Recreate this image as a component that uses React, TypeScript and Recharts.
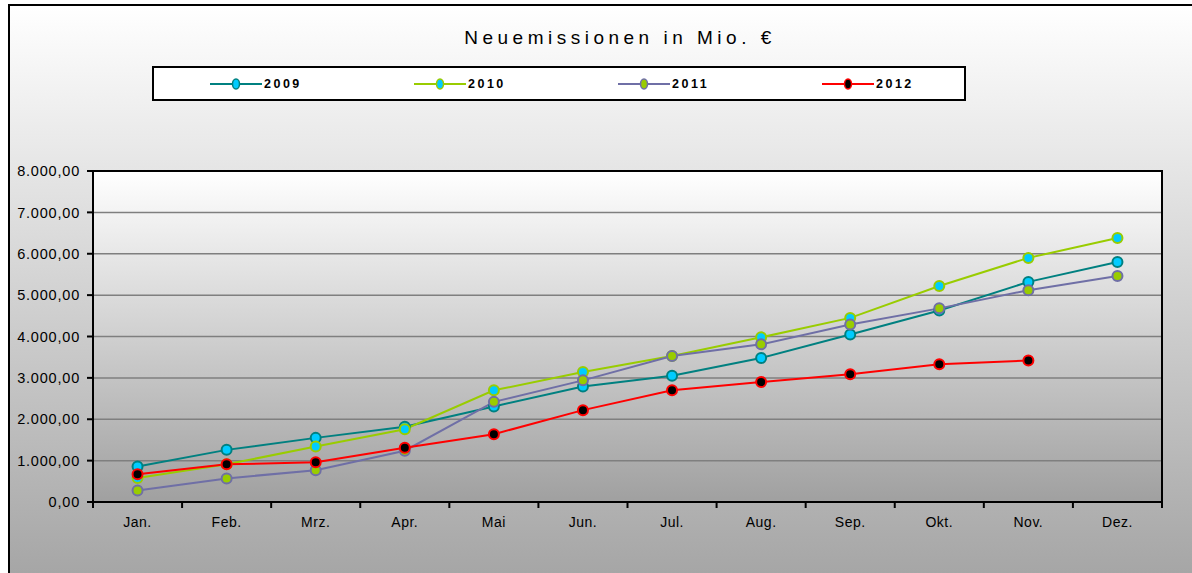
import { CartesianGrid, Legend, Line, LineChart, ReferenceArea, XAxis, YAxis } from "recharts";

const MONTHS = ["Jan.", "Feb.", "Mrz.", "Apr.", "Mai", "Jun.", "Jul.", "Aug.", "Sep.", "Okt.", "Nov.", "Dez."];
const S2009 = [860, 1260, 1550, 1820, 2310, 2790, 3050, 3480, 4050, 4630, 5320, 5800];
const S2010 = [580, 910, 1340, 1760, 2700, 3140, 3530, 3980, 4450, 5220, 5900, 6380];
const S2011 = [280, 570, 770, 1240, 2420, 2940, 3530, 3810, 4290, 4680, 5120, 5460];
const S2012 = [670, 910, 960, 1310, 1640, 2220, 2700, 2900, 3090, 3330, 3420, null];
const Y_TICKS = [0, 1000, 2000, 3000, 4000, 5000, 6000, 7000, 8000];

const SERIES = [
  { key: "2009", values: S2009, line: "#008080", fill: "#00ccff", stroke: "#008080" },
  { key: "2010", values: S2010, line: "#99cc00", fill: "#00ccff", stroke: "#99cc00" },
  { key: "2011", values: S2011, line: "#6f6fa6", fill: "#99cc00", stroke: "#6f6fa6" },
  { key: "2012", values: S2012, line: "#ff0000", fill: "#000000", stroke: "#ff0000" },
];

const data = MONTHS.map((m, i) => {
  const row: Record<string, any> = { pos: i, month: m };
  SERIES.forEach((s) => (row[s.key] = s.values[i]));
  return row;
});

// category centres and the boundaries between them
const X_DOMAIN = [-0.5, MONTHS.length - 0.5];
const CENTER_TICKS = MONTHS.map((_, i) => i);
const BOUNDARY_TICKS = [...MONTHS.map((_, i) => i - 0.5), MONTHS.length - 0.5];

const FONT = '"Liberation Sans", Arial, sans-serif';

const fmt = (v: number) =>
  v.toLocaleString("de-DE", { minimumFractionDigits: 2, maximumFractionDigits: 2 });

function LegendBox({ payload }: any) {
  return (
    <div
      style={{
        boxSizing: "border-box",
        width: 814,
        height: 35,
        border: "2px solid #000",
        background: "#fff",
        display: "flex",
        alignItems: "center",
        paddingLeft: 56,
        fontFamily: FONT,
      }}
    >
      {(payload || [])
        .filter((p: any) => SERIES.some((x) => x.key === p.value))
        .map((p: any) => {
          const s = SERIES.find((x) => x.key === p.value)!;
          return (
            <div key={p.value} style={{ width: 204, flexShrink: 0, display: "flex", alignItems: "center" }}>
              <svg width={52} height={14}>
                <line x1={0} y1={7} x2={52} y2={7} stroke={s.line} strokeWidth={2} />
                <ellipse cx={26} cy={7} rx={3.5} ry={5} fill={s.fill} stroke={s.stroke} strokeWidth={1.5} />
              </svg>
              <span style={{ fontSize: 12.5, fontWeight: 700, letterSpacing: 2.5, marginLeft: 2 }}>{p.value}</span>
            </div>
          );
        })}
    </div>
  );
}

export default function App() {
  return (
    <div
      style={{
        position: "absolute",
        left: 8,
        top: 4,
        width: 1184,
        height: 569,
        boxSizing: "border-box",
        borderLeft: "2px solid #000",
        borderTop: "2px solid #000",
        background: "linear-gradient(#ffffff, #a6a6a6)",
        overflow: "hidden",
      }}
    >
      <div
        style={{
          position: "absolute",
          left: 19,
          width: 1182,
          top: 21,
          textAlign: "center",
          fontFamily: FONT,
          fontSize: 19,
          letterSpacing: 4.5,
          color: "#000",
        }}
      >
        Neuemissionen in Mio. €
      </div>
      <LineChart
        width={1182}
        height={567}
        data={data}
        margin={{ top: 165, right: 30, bottom: 41, left: 0 }}
        style={{ fontFamily: FONT }}
      >
        <defs>
          <linearGradient id="plotBg" x1="0" y1="0" x2="0" y2="1">
            <stop offset="0%" stopColor="#ffffff" />
            <stop offset="100%" stopColor="#a0a0a0" />
          </linearGradient>
        </defs>
        <CartesianGrid vertical={false} fill="url(#plotBg)" stroke="#7f7f7f" strokeWidth={1.5} />
        <XAxis
          xAxisId="labels"
          dataKey="pos"
          type="number"
          domain={X_DOMAIN}
          ticks={CENTER_TICKS}
          allowDataOverflow
          tickFormatter={(i: number) => MONTHS[i]}
          height={29}
          tickLine={false}
          tickSize={5}
          tickMargin={9}
          axisLine={false}
          tick={{ fill: "#000", fontSize: 14, letterSpacing: 0.5 }}
          interval={0}
        />
        {/* tick marks on the category boundaries */}
        <XAxis
          dataKey="pos"
          type="number"
          domain={X_DOMAIN}
          ticks={BOUNDARY_TICKS}
          allowDataOverflow
          height={1}
          tick={() => <g />}
          tickSize={6}
          tickLine={{ stroke: "#000", strokeWidth: 2 }}
          axisLine={false}
          interval={0}
        />
        <YAxis
          domain={[0, 8000]}
          ticks={Y_TICKS}
          width={83}
          tickFormatter={fmt}
          tickSize={6}
          tickMargin={7}
          tickLine={{ stroke: "#000", strokeWidth: 2 }}
          axisLine={false}
          tick={{ fill: "#000", fontSize: 14.5, letterSpacing: 0.8 }}
        />
        <ReferenceArea
          xAxisId="labels"
          x1={X_DOMAIN[0]}
          x2={X_DOMAIN[1]}
          y1={0}
          y2={8000}
          fill="none"
          stroke="#000"
          strokeWidth={2}
          ifOverflow="visible"
        />
        <Legend
          layout="vertical"
          align="center"
          verticalAlign="middle"
          wrapperStyle={{ left: 142, top: 60, width: 814, height: 35 }}
          content={<LegendBox />}
        />
        {/* invisible series so the boundary-tick axis has data */}
        <Line
          dataKey="2009"
          name="bounds"
          stroke="none"
          dot={false}
          activeDot={false}
          legendType="none"
          isAnimationActive={false}
        />
        {SERIES.map((s) => (
          <Line
            key={s.key}
            xAxisId="labels"
            dataKey={s.key}
            name={s.key}
            type="linear"
            stroke={s.line}
            strokeWidth={2}
            dot={{ r: 5, fill: s.fill, stroke: s.stroke, strokeWidth: 2 }}
            activeDot={false}
            isAnimationActive={false}
          />
        ))}
      </LineChart>
    </div>
  );
}
